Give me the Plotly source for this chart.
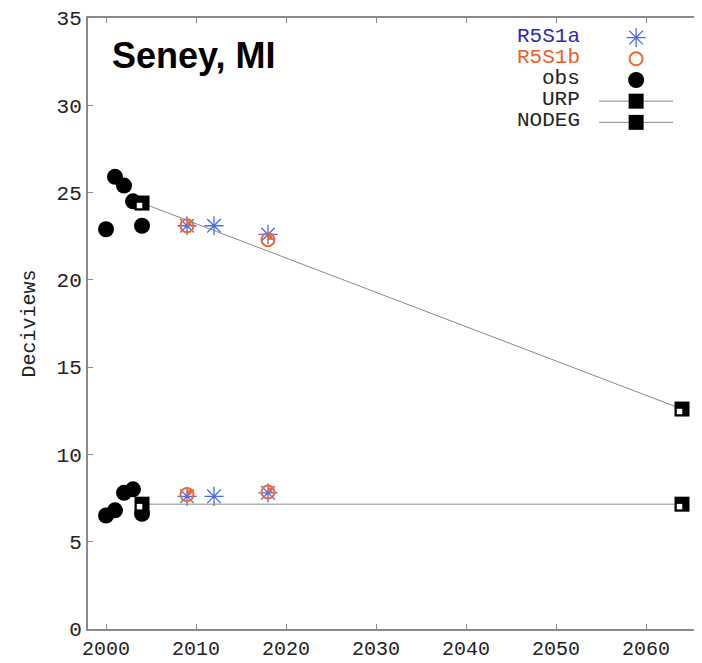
import plotly.graph_objects as go

# Observations (20% worst days and 20% best days)
obs_years = [2000, 2001, 2002, 2003, 2004]
obs_worst = [22.9, 25.9, 25.4, 24.5, 23.1]
obs_best = [6.5, 6.8, 7.8, 8.0, 6.6]

# Model projections
r5s1a_years = [2009, 2012, 2018]
r5s1a_worst = [23.1, 23.1, 22.6]
r5s1a_best = [7.6, 7.6, 7.8]

r5s1b_years = [2009, 2018]
r5s1b_worst = [23.1, 22.3]
r5s1b_best = [7.7, 7.85]

# Glide paths
path_years = [2004, 2064]
urp_values = [24.4, 12.6]
nodeg_values = [7.15, 7.15]

x_ticks = [2000, 2010, 2020, 2030, 2040, 2050, 2060]
y_ticks = [0, 5, 10, 15, 20, 25, 30, 35]

legend_labels = ["R5S1a", "R5S1b", "obs", "URP", "NODEG"]
legend_colors = ["#2a2ab8", "#e8602a", "#222222", "#222222", "#222222"]

mono = "Liberation Mono"
gray = "#8a8a8a"
orange = "#ee6a2c"

fig = go.Figure()

fig.add_trace(go.Scatter(
    x=r5s1a_years + r5s1a_years, y=r5s1a_worst + r5s1a_best,
    mode="markers", name=" ",
    marker=dict(symbol="asterisk-open", size=16, color="#4a6cf0",
                line=dict(color="#4a6cf0", width=1.3)),
))
fig.add_trace(go.Scatter(
    x=r5s1b_years + r5s1b_years, y=r5s1b_worst + r5s1b_best,
    mode="markers", name=" ",
    marker=dict(symbol="circle-open", size=13, color=orange,
                line=dict(color=orange, width=2)),
))
# filled upper-right quarter of the gnuplot pie symbol
fig.add_trace(go.Scatter(
    x=r5s1b_years + r5s1b_years, y=r5s1b_worst + r5s1b_best,
    mode="markers", showlegend=False, hoverinfo="skip",
    marker=dict(symbol="diamond", size=5, color=orange, angle=225,
                angleref="up", standoff=3),
))
fig.add_trace(go.Scatter(
    x=obs_years + obs_years, y=obs_worst + obs_best,
    mode="markers", name=" ",
    marker=dict(symbol="circle", size=16, color="black"),
))
for vals in (urp_values, nodeg_values):
    fig.add_trace(go.Scatter(
        x=path_years, y=vals, mode="lines+markers", name=" ",
        line=dict(color=gray, width=1),
        marker=dict(symbol="square", size=15, color="black"),
    ))
    # white lower-left quadrant of the gnuplot box symbol
    fig.add_trace(go.Scatter(
        x=path_years, y=vals, mode="markers", showlegend=False,
        hoverinfo="skip",
        marker=dict(symbol="diamond", size=6, color="white", angle=45,
                    angleref="up", standoff=3.5),
    ))

# legend labels (gnuplot style: text to the left of the key symbols)
label_rows = [0.969, 0.935, 0.901, 0.867, 0.833]
for lbl, col, yy in zip(legend_labels, legend_colors, label_rows):
    fig.add_annotation(
        text=lbl, xref="paper", yref="paper", x=0.807, y=yy,
        xanchor="right", yanchor="middle", showarrow=False,
        font=dict(family=mono, size=21, color=col),
    )

fig.add_annotation(
    text="<b>Seney, MI</b>", xref="paper", yref="paper",
    x=0.036, y=0.938, xanchor="left", yanchor="middle", showarrow=False,
    font=dict(family="Liberation Sans", size=36, color="black"),
)

axis_common = dict(
    showgrid=False, zeroline=False, showline=True, linecolor=gray,
    linewidth=2, mirror="ticks", ticks="inside", ticklen=5,
    tickcolor=gray, tickwidth=1, automargin=False,
)

fig.update_xaxes(range=[1998, 2066], tickvals=x_ticks,
                 ticktext=[str(v) for v in x_ticks], ticklabelstandoff=0,
                 tickfont=dict(family=mono, size=20, color="#222"),
                 **axis_common)
fig.update_yaxes(range=[0, 35], tickvals=y_ticks,
                 ticktext=[str(v) for v in y_ticks],
                 tickfont=dict(family=mono, size=21, color="#222"),
                 title=dict(text="Deciviews", font=dict(family=mono, size=20, color="#222"),
                            standoff=16),
                 **axis_common)

fig.update_layout(
    width=694, height=655,
    margin=dict(l=80, r=2, t=10, b=34),
    paper_bgcolor="white", plot_bgcolor="white",
    legend=dict(x=0.827, y=0.9935, xanchor="left", yanchor="top",
                bgcolor="rgba(0,0,0,0)", tracegroupgap=0,
                font=dict(family=mono, size=14, color="#222"),
                itemwidth=74),
)

fig.write_html("out.html")
